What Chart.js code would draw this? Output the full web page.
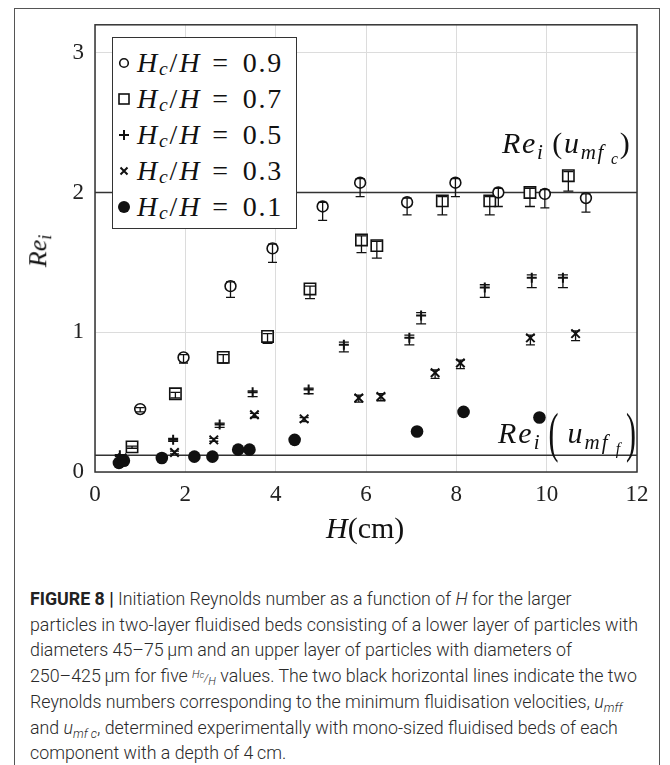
<!DOCTYPE html>
<html><head><meta charset="utf-8">
<script src="https://cdn.jsdelivr.net/npm/chart.js@4"></script>
<style>
body{margin:0;background:#fff;}
#wrap{position:relative;width:670px;height:765px;overflow:hidden;background:#fff;}
#frame{position:absolute;left:14px;top:8px;width:646px;height:800px;border:1.5px solid #555;box-sizing:border-box;}
#cv{position:absolute;left:0;top:0;}
.math{font-family:"Liberation Serif","Times New Roman",serif;color:#111;position:absolute;white-space:nowrap;}
.sb{font-size:70%;position:relative;top:0.3em;}
.sb .sb{font-size:75%;}
#legend{position:absolute;left:112px;top:37px;width:185px;height:192px;border:1.5px solid #333;background:#fff;box-sizing:border-box;}
#legend .row{position:absolute;left:0;height:36px;display:flex;align-items:center;font-family:"Liberation Serif",serif;font-size:28px;letter-spacing:1.8px;color:#111;white-space:nowrap;}
#legend svg{margin-left:4px;margin-right:6px;}
.eq{margin:0 13px 0 11px;}
#caption{position:absolute;left:30px;top:586px;font-family:Roboto,"Liberation Sans",Arial,sans-serif;font-weight:300;font-size:17.8px;line-height:25.7px;color:#2a2a2a;white-space:nowrap;}
#caption b{font-weight:700;color:#222;}
.csub{font-size:70%;position:relative;top:0.35em;line-height:0;}
.frac{font-size:11px;font-style:italic;line-height:0;}
.frac .up{position:relative;top:-0.4em;}
.frac .dn{position:relative;top:0.3em;}
.big{display:inline-block;transform:scaleY(1.85);}
</style></head>
<body>
<div id="wrap">
<div id="frame"></div>
<canvas id="cv" width="670" height="580"></canvas>
<div id="legend"></div>
<div class="math" id="ylab" style="left:22px;top:236px;font-size:26px;transform:rotate(-90deg);transform-origin:center;"><i>Re</i><span class="sb"><i>i</i></span></div>
<div class="math" id="xlab" style="left:326px;top:511px;font-size:30px;"><i>H</i>(cm)</div>
<div class="math" id="lab1" style="left:502px;top:126px;font-size:30px;letter-spacing:1.7px;"><i>Re</i><span class="sb"><i>i</i></span>&thinsp;(<i>u</i><span class="sb"><i>mf</i>&thinsp;<span class="sb"><i>c</i></span></span>)</div>
<div class="math" id="lab2" style="left:498px;top:416px;font-size:30px;letter-spacing:2px;"><i>Re</i><span class="sb"><i>i</i></span><span class="big" style="margin:0 7px 0 7px;">(</span><i>u</i><span class="sb"><i>mf</i>&thinsp;<span class="sb"><i>f</i></span></span><span class="big" style="margin-left:4px;">)</span></div>
<div id="caption"><b>FIGURE 8 |</b> Initiation Reynolds number as a function of <i>H</i> for the larger<br>particles in two-layer fluidised beds consisting of a lower layer of particles with<br>diameters 45–75&thinsp;µm and an upper layer of particles with diameters of<br>250–425&thinsp;µm for five <span class="frac"><span class="up">H<span style="font-size:80%">c</span></span>/<span class="dn">H</span></span> values. The two black horizontal lines indicate the two<br>Reynolds numbers corresponding to the minimum fluidisation velocities, <i>u<span class="csub">mff</span></i><br>and <i>u<span class="csub">mf c</span></i>, determined experimentally with mono-sized fluidised beds of each<br>component with a depth of 4&thinsp;cm.</div>
</div>
<script>
// ---- data ----
const hcRatios = ['0.9','0.7','0.5','0.3','0.1'];
const xTicks = [0,2,4,6,8,10,12];
const yTicks = [0,1,2,3];
const refX = [0,12];
const reMfc = 2.0;
const reMff = 0.12;

const h09 = [1.0,1.96,3.0,3.93,5.04,5.87,6.91,7.98,8.93,9.96,10.87];
const re09 = [0.45,0.82,1.33,1.60,1.90,2.07,1.93,2.07,2.00,1.99,1.96];
const lo09 = [0.02,0.04,0.08,0.10,0.10,0.10,0.09,0.10,0.10,0.10,0.10];
const hi09 = [0.01,0.02,0.03,0.03,0.03,0.03,0.03,0.03,0.03,0.03,0.03];

const h07 = [0.82,1.78,2.84,3.82,4.76,5.90,6.24,7.69,8.74,9.63,10.48];
const re07 = [0.18,0.56,0.82,0.97,1.31,1.66,1.62,1.94,1.94,2.00,2.12];
const lo07 = [0.01,0.03,0.04,0.05,0.07,0.09,0.09,0.10,0.10,0.10,0.11];
const hi07 = [0.005,0.01,0.02,0.02,0.02,0.03,0.03,0.03,0.03,0.03,0.03];

const h05 = [0.55,1.73,2.76,3.49,4.73,5.51,6.96,7.22,8.63,9.67,10.36];
const re05 = [0.12,0.23,0.34,0.57,0.59,0.91,0.96,1.12,1.32,1.39,1.39];
const lo05 = [0.01,0.01,0.02,0.03,0.03,0.05,0.05,0.06,0.07,0.07,0.07];
const hi05 = [0.005,0.01,0.01,0.01,0.01,0.02,0.02,0.02,0.02,0.02,0.02];

const h03 = [0.60,1.76,2.63,3.53,4.63,5.84,6.33,7.53,8.09,9.64,10.64];
const re03 = [0.10,0.14,0.23,0.41,0.38,0.53,0.54,0.71,0.78,0.96,0.99];
const lo03 = [0.005,0.01,0.01,0.02,0.02,0.03,0.03,0.04,0.04,0.05,0.05];
const hi03 = [0.005,0.01,0.01,0.01,0.01,0.02,0.02,0.02,0.02,0.02,0.02];

const h01 = [0.53,0.64,1.48,2.20,2.60,3.17,3.42,4.42,7.13,8.16,9.84];
const re01 = [0.065,0.08,0.10,0.11,0.11,0.16,0.16,0.23,0.29,0.43,0.39];

// ---- helpers ----
const pts = (xs, ys) => xs.map((x, i) => ({x, y: ys[i]}));
const ink = '#111';

const errorBars = {
  id: 'errorBars',
  afterDatasetsDraw(chart) {
    const ctx = chart.ctx, xs = chart.scales.x, ys = chart.scales.y;
    ctx.save();
    ctx.strokeStyle = ink; ctx.lineWidth = 1.3;
    chart.data.datasets.forEach((ds, i) => {
      if (!ds.errLow) return;
      ds.data.forEach((p, j) => {
        const px = xs.getPixelForValue(p.x);
        const yt = ys.getPixelForValue(p.y + ds.errHigh[j]);
        const yb = ys.getPixelForValue(p.y - ds.errLow[j]);
        const w = ds.capHalf;
        ctx.beginPath();
        ctx.moveTo(px, yt); ctx.lineTo(px, yb);
        ctx.moveTo(px - w, yt); ctx.lineTo(px + w, yt);
        ctx.moveTo(px - w, yb); ctx.lineTo(px + w, yb);
        ctx.stroke();
      });
    });
    ctx.restore();
  }
};
const frame = {
  id: 'frame',
  afterDraw(chart) {
    const a = chart.chartArea, ctx = chart.ctx;
    ctx.save(); ctx.strokeStyle = '#333'; ctx.lineWidth = 1.5;
    ctx.strokeRect(a.left, a.top, a.right - a.left, a.bottom - a.top);
    ctx.restore();
  }
};

const tickFont = {family: '"Liberation Serif","Times New Roman",serif', size: 23};

new Chart(document.getElementById('cv'), {
  type: 'scatter',
  data: {
    datasets: [
      {type:'line', data: pts(refX, [reMfc, reMfc]), borderColor:'#333', borderWidth:1.5, pointRadius:0, order:10},
      {type:'line', data: pts(refX, [reMff, reMff]), borderColor:'#333', borderWidth:1.5, pointRadius:0, order:10},
      {label: hcRatios[0], data: pts(h09, re09), errLow: lo09, errHigh: hi09, capHalf: 4.5,
        pointStyle:'circle', pointRadius:5.4, pointBorderWidth:1.6, pointBorderColor:ink, pointBackgroundColor:'#fff'},
      {label: hcRatios[1], data: pts(h07, re07), errLow: lo07, errHigh: hi07, capHalf: 5,
        pointStyle:'rect', pointRadius:8, pointBorderWidth:1.6, pointBorderColor:ink, pointBackgroundColor:'#fff'},
      {label: hcRatios[2], data: pts(h05, re05), errLow: lo05, errHigh: hi05, capHalf: 5,
        pointStyle:'cross', pointRadius:5, pointBorderWidth:2, pointBorderColor:ink},
      {label: hcRatios[3], data: pts(h03, re03), errLow: lo03, errHigh: hi03, capHalf: 4.5,
        pointStyle:'crossRot', pointRadius:6, pointBorderWidth:2, pointBorderColor:ink},
      {label: hcRatios[4], data: pts(h01, re01),
        pointStyle:'circle', pointRadius:6.3, pointBorderWidth:0, pointBackgroundColor:ink}
    ]
  },
  options: {
    responsive: false, animation: false, devicePixelRatio: 1,
    layout: {padding: {left: 0, top: 23, right: 33, bottom: 0}},
    plugins: {legend: {display: false}, tooltip: {enabled: false}},
    scales: {
      x: {type:'linear', min:0, max:12,
        afterBuildTicks: s => { s.ticks = xTicks.map(v => ({value: v})); },
        afterFit: s => { s.height = 108; },
        grid: {color:'#dcdcdc', lineWidth:1, drawTicks:false},
        border: {display:false},
        ticks: {font: tickFont, color:'#222', padding: 9, maxRotation:0, autoSkip:false}},
      y: {type:'linear', min:0, max:3.2,
        afterBuildTicks: s => { s.ticks = yTicks.map(v => ({value: v})); },
        afterFit: s => { s.width = 95; },
        grid: {color:'#dcdcdc', lineWidth:1, drawTicks:false},
        border: {display:false},
        ticks: {font: tickFont, color:'#222', padding: 11, autoSkip:false}}
    }
  },
  plugins: [errorBars, frame]
});

// ---- legend (HTML, math text) ----
const markers = [
  '<svg width="14" height="14"><circle cx="7" cy="7" r="4.3" fill="none" stroke="#111" stroke-width="1.6"/></svg>',
  '<svg width="14" height="14"><rect x="2" y="2" width="10" height="10" fill="none" stroke="#111" stroke-width="1.6"/></svg>',
  '<svg width="14" height="14"><path d="M7 2V12M2 7H12" stroke="#111" stroke-width="2"/></svg>',
  '<svg width="14" height="14"><path d="M3.5 3.5L10.5 10.5M10.5 3.5L3.5 10.5" stroke="#111" stroke-width="2"/></svg>',
  '<svg width="14" height="14"><circle cx="7" cy="7" r="6" fill="#111"/></svg>'
];
const leg = document.getElementById('legend');
hcRatios.forEach((r, i) => {
  const d = document.createElement('div');
  d.className = 'row';
  d.style.top = (7 + i * 36) + 'px';
  d.innerHTML = markers[i] + '<i>H</i><span class="sb"><i>c</i></span>/<i>H</i><span class="eq">=</span>' + r;
  leg.appendChild(d);
});
</script>
</body></html>
